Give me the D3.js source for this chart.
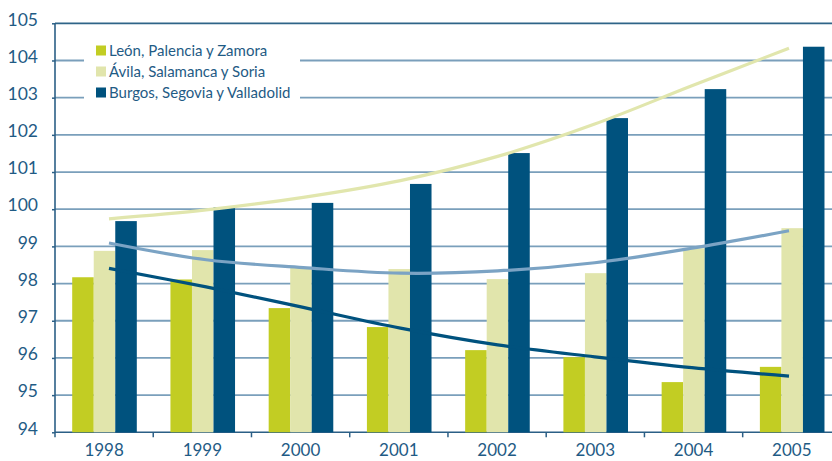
<!DOCTYPE html>
<html>
<head>
<meta charset="utf-8">
<script src="https://cdn.jsdelivr.net/npm/d3@7"></script>
<style>
  html, body { margin: 0; padding: 0; background: #fff; }
  svg text { font-family: Lato, "Open Sans", sans-serif; fill: #1f5b85; }
</style>
</head>
<body>
<svg id="chart" width="832" height="461"></svg>
<script>
/*global d3*/

// categories
var years = ["1998", "1999", "2000", "2001", "2002", "2003", "2004", "2005"];
var seriesNames = ["León, Palencia y Zamora", "Ávila, Salamanca y Soria", "Burgos, Segovia y Valladolid"];
var yTicks = [94, 95, 96, 97, 98, 99, 100, 101, 102, 103, 104, 105];

// bar values
var leonValues = [98.17, 98.11, 97.34, 96.83, 96.21, 96.02, 95.35, 95.76];
var avilaValues = [98.88, 98.90, 98.43, 98.39, 98.12, 98.28, 98.95, 99.49];
var burgosValues = [99.68, 100.05, 100.17, 100.68, 101.51, 102.45, 103.23, 104.37];

// trend curves
var paleTrend = [99.74, 99.98, 100.32, 100.77, 101.42, 102.29, 103.32, 104.33];
var blueTrend = [99.09, 98.64, 98.43, 98.28, 98.34, 98.56, 98.95, 99.42];
var darkTrend = [98.41, 97.91, 97.36, 96.80, 96.35, 96.03, 95.74, 95.51];

var barColors = ["#c2cd23", "#e1e5ac", "#00527e"];

var Chart = {
    svg: null,
    x0: null,
    x1: null,
    xt: null,
    y: null,
    left: 55,
    top: 23.3,
    bottom: 432.3,
    step: 98.24,

    init: function() {
        this.svg = d3.select("#chart");
        this.x0 = d3.scaleBand()
            .domain(years)
            .range([this.left, this.left + this.step * years.length])
            .padding(0);
        this.x1 = d3.scaleBand()
            .domain([0, 1, 2])
            .range([17.2, 81.8])
            .padding(0);
        this.xt = d3.scalePoint()
            .domain(years)
            .range([109, 789]);
        this.y = d3.scaleLinear()
            .domain([94, 105])
            .range([this.bottom, this.top]);
    },

    draw: function() {
        var that = this;
        var svg = this.svg;

        // gridlines
        svg.append("g")
            .selectAll("line")
            .data(yTicks.slice(1))
            .enter().append("line")
            .attr("x1", this.left)
            .attr("x2", 832)
            .attr("y1", function(d) { return that.y(d); })
            .attr("y2", function(d) { return that.y(d); })
            .attr("stroke", function(d) { return d === 105 ? "#2f6488" : "#7a9fbb"; })
            .attr("stroke-width", 1.8);

        // y axis
        var yAxis = d3.axisLeft(this.y)
            .tickValues(yTicks)
            .tickSize(3)
            .tickPadding(14)
            .tickFormat(d3.format("d"));
        var ga = svg.append("g")
            .attr("transform", "translate(" + this.left + ",0)")
            .call(yAxis);
        ga.select(".domain").remove();
        ga.selectAll("line").attr("stroke", "#2b5f86").attr("stroke-width", 1.5);
        ga.selectAll("text")
            .attr("dy", "0.1em")
            .style("font-size", "17.5px")
            .attr("fill", "#1f5b85");
        ga.append("line")
            .attr("x1", 0).attr("x2", 0)
            .attr("y1", this.top).attr("y2", this.bottom)
            .attr("stroke", "#2b5f86")
            .attr("stroke-width", 1.6);

        // x axis: ticks on band edges, labels at band centres
        var edges = years.map(function(d) { return that.x0(d); });
        var gx = svg.append("g");
        gx.append("line")
            .attr("x1", this.left).attr("x2", 832)
            .attr("y1", this.bottom).attr("y2", this.bottom)
            .attr("stroke", "#2b5f86")
            .attr("stroke-width", 1.6);
        gx.selectAll("line.tick")
            .data(edges)
            .enter().append("line")
            .attr("class", "tick")
            .attr("x1", function(d) { return d; })
            .attr("x2", function(d) { return d; })
            .attr("y1", this.bottom)
            .attr("y2", this.bottom + 5)
            .attr("stroke", "#2b5f86")
            .attr("stroke-width", 1.5);
        gx.selectAll("text")
            .data(years)
            .enter().append("text")
            .attr("x", function(d) { return that.x0(d) + that.x0.bandwidth() / 2; })
            .attr("y", 456)
            .attr("text-anchor", "middle")
            .style("font-size", "17px")
            .text(function(d) { return d; });

        // bars
        var rows = years.map(function(yr, i) {
            return { year: yr, values: [leonValues[i], avilaValues[i], burgosValues[i]] };
        });
        svg.append("g")
            .selectAll("g")
            .data(rows)
            .enter().append("g")
            .attr("transform", function(d) { return "translate(" + that.x0(d.year) + ",0)"; })
            .selectAll("rect")
            .data(function(d) { return d.values; })
            .enter().append("rect")
            .attr("x", function(d, i) { return that.x1(i); })
            .attr("width", this.x1.bandwidth())
            .attr("y", function(d) { return that.y(d); })
            .attr("height", function(d) { return that.bottom - that.y(d); })
            .attr("fill", function(d, i) { return barColors[i]; });

        // trend curves
        var line = d3.line()
            .x(function(d, i) { return that.xt(years[i]); })
            .y(function(d) { return that.y(d); })
            .curve(d3.curveCatmullRom);
        var trends = [
            { values: paleTrend, color: "#e1e6ad" },
            { values: blueTrend, color: "#7ba3c4" },
            { values: darkTrend, color: "#00527e" }
        ];
        svg.append("g")
            .selectAll("path")
            .data(trends)
            .enter().append("path")
            .attr("d", function(d) { return line(d.values); })
            .attr("fill", "none")
            .attr("stroke", function(d) { return d.color; })
            .attr("stroke-width", 3.2);

        // legend
        var lg = svg.append("g");
        lg.append("rect")
            .attr("x", 84).attr("y", 37)
            .attr("width", 216).attr("height", 67)
            .attr("fill", "#fff");
        var item = lg.selectAll("g")
            .data(seriesNames)
            .enter().append("g")
            .attr("transform", function(d, i) { return "translate(96," + (45.5 + i * 21) + ")"; });
        item.append("rect")
            .attr("width", 10).attr("height", 10)
            .attr("fill", function(d, i) { return barColors[i]; });
        item.append("text")
            .attr("x", 13)
            .attr("y", 10)
            .style("font-size", "15px")
            .text(function(d) { return d; });
    }
};

Chart.init();
Chart.draw();
</script>
</body>
</html>
